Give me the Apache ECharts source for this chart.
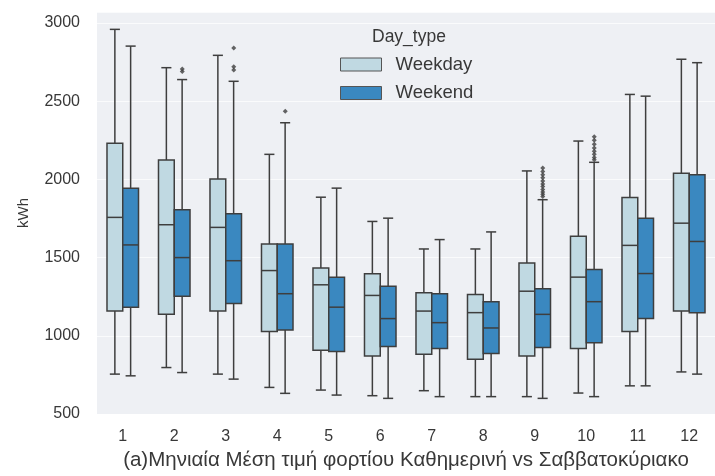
<!DOCTYPE html>
<html>
<head>
<meta charset="utf-8">
<script src="https://cdn.jsdelivr.net/npm/echarts@6/dist/echarts.min.js"></script>
<style>
  html, body { margin: 0; padding: 0; background: #ffffff; }
  #chart { width: 715px; height: 476px; }
</style>
</head>
<body>
<div id="chart"></div>
<script>
// Months on the x axis
const months = ['1', '2', '3', '4', '5', '6', '7', '8', '9', '10', '11', '12'];

// Weekday box statistics (kWh): lower whisker, Q1, median, Q3, upper whisker
const weekdayLow  = [755, 797, 755, 670, 653, 617, 649, 611, 611, 634, 680, 769];
const weekdayQ1   = [1158, 1137, 1158, 1027, 908, 871, 882, 850, 871, 918, 1027, 1158];
const weekdayMed  = [1757, 1710, 1693, 1417, 1326, 1258, 1158, 1148, 1285, 1375, 1578, 1720];
const weekdayQ3   = [2231, 2124, 2003, 1587, 1434, 1396, 1275, 1264, 1466, 1636, 1884, 2039];
const weekdayHigh = [2959, 2714, 2793, 2160, 1886, 1731, 1555, 1555, 2054, 2245, 2543, 2768];

// Weekend box statistics (kWh)
const weekendLow  = [744, 765, 723, 632, 621, 600, 611, 611, 600, 611, 680, 755];
const weekendQ1   = [1183, 1253, 1207, 1037, 899, 931, 918, 886, 925, 956, 1111, 1148];
const weekendMed  = [1581, 1500, 1480, 1269, 1183, 1110, 1084, 1050, 1137, 1218, 1398, 1603];
const weekendQ3   = [1944, 1806, 1780, 1587, 1375, 1317, 1269, 1218, 1300, 1424, 1752, 2029];
const weekendHigh = [2852, 2638, 2627, 2362, 1944, 1752, 1615, 1664, 1870, 2109, 2532, 2746];

// Weekend outliers: month index (0-based) and value
const weekendOutMonth = [1, 1, 2, 2, 2, 3,
  8, 8, 8, 8, 8, 8, 8, 8, 8, 8, 8,
  9, 9, 9, 9, 9, 9, 9, 9];
const weekendOutValue = [2690, 2705, 2840, 2700, 2720, 2435,
  1890, 1905, 1920, 1935, 1955, 1970, 1990, 2010, 2030, 2050, 2072,
  2125, 2140, 2160, 2180, 2200, 2225, 2250, 2272];

// Y axis ticks
const yMin = 500, yMax = 3070, yStep = 500;

const weekdayColor = '#c0d9e2';
const weekendColor = '#3a88c0';
const edgeColor = '#3e3e3e';
const BOX_FRACTION = 0.306;   // box width as a share of the category band

function buildRows(low, q1, med, q3, high) {
  return months.map((m, i) => [i, low[i], q1[i], med[i], q3[i], high[i]]);
}

function boxRenderer(side) {
  return function (params, api) {
    const idx = api.value(0);
    const band = api.size([1, 0])[0];
    const w = band * BOX_FRACTION;
    const cx = api.coord([idx, 0])[0] + side * w / 2;
    const yLow = api.coord([idx, api.value(1)])[1];
    const yQ1 = api.coord([idx, api.value(2)])[1];
    const yMed = api.coord([idx, api.value(3)])[1];
    const yQ3 = api.coord([idx, api.value(4)])[1];
    const yHigh = api.coord([idx, api.value(5)])[1];
    const capHalf = w * 0.32;
    const lineStyle = { stroke: edgeColor, lineWidth: 1.5 };
    const fill = api.visual('color');
    return {
      type: 'group',
      children: [
        { type: 'line', shape: { x1: cx, y1: yLow, x2: cx, y2: yQ1 }, style: lineStyle },
        { type: 'line', shape: { x1: cx, y1: yQ3, x2: cx, y2: yHigh }, style: lineStyle },
        { type: 'line', shape: { x1: cx - capHalf, y1: yLow, x2: cx + capHalf, y2: yLow }, style: lineStyle },
        { type: 'line', shape: { x1: cx - capHalf, y1: yHigh, x2: cx + capHalf, y2: yHigh }, style: lineStyle },
        { type: 'rect', shape: { x: cx - w / 2, y: yQ3, width: w, height: yQ1 - yQ3 },
          style: { fill: fill, stroke: edgeColor, lineWidth: 1.5 } },
        { type: 'line', shape: { x1: cx - w / 2, y1: yMed, x2: cx + w / 2, y2: yMed }, style: lineStyle }
      ]
    };
  };
}

const chart = echarts.init(document.getElementById('chart'), null, { renderer: 'canvas' });

const fontFamily = '"Liberation Sans", Arial, sans-serif';
const textColor = '#383838';

chart.setOption({
  animation: false,
  textStyle: { fontFamily: fontFamily },
  grid: {
    left: 97, top: 12, width: 626, height: 403,
    show: true, backgroundColor: '#eef0f4', borderWidth: 0
  },
  legend: {
    orient: 'vertical',
    left: 340, top: 55,
    itemWidth: 41, itemHeight: 13, itemGap: 9.5,
    icon: 'rect',
    padding: 0,
    itemStyle: { borderColor: '#555555', borderWidth: 1 },
    textStyle: { fontSize: 18.5, color: textColor, padding: [0, 0, 0, 9], fontFamily: fontFamily },
    data: ['Weekday', 'Weekend']
  },
  graphic: [{
    type: 'text', left: 372, top: 28,
    style: { text: 'Day_type', fontSize: 17.5, fill: textColor, fontFamily: fontFamily }
  }],
  xAxis: {
    type: 'category',
    data: months,
    boundaryGap: true,
    axisLine: { show: false },
    axisTick: { show: false },
    axisLabel: { fontSize: 16, color: textColor, margin: 15 },
    name: '(a)Μηνιαία Μέση τιμή φορτίου Καθημερινή vs Σαββατοκύριακο',
    nameLocation: 'middle',
    nameGap: 36,
    nameTextStyle: { fontSize: 20.5, color: textColor }
  },
  yAxis: {
    type: 'value',
    min: yMin, max: yMax, interval: yStep,
    axisLine: { show: false },
    axisTick: { show: false },
    splitLine: { show: true, lineStyle: { color: 'rgba(255,255,255,0.7)', width: 1 } },
    axisLabel: {
      fontSize: 16, color: textColor, margin: 17,
      formatter: v => (v % yStep === 0 ? String(v) : '')
    },
    name: 'kWh',
    nameLocation: 'middle',
    nameRotate: 90,
    nameGap: 66,
    nameTextStyle: { fontSize: 15, color: textColor }
  },
  series: [
    {
      name: 'Weekday', type: 'custom',
      itemStyle: { color: weekdayColor, borderColor: edgeColor },
      renderItem: boxRenderer(-1),
      encode: { x: 0, y: [1, 2, 3, 4, 5] },
      data: buildRows(weekdayLow, weekdayQ1, weekdayMed, weekdayQ3, weekdayHigh),
      z: 3
    },
    {
      name: 'Weekend', type: 'custom',
      itemStyle: { color: weekendColor, borderColor: edgeColor },
      renderItem: boxRenderer(1),
      encode: { x: 0, y: [1, 2, 3, 4, 5] },
      data: buildRows(weekendLow, weekendQ1, weekendMed, weekendQ3, weekendHigh),
      z: 3
    },
    {
      name: 'Weekend outliers', type: 'scatter',
      symbol: 'diamond', symbolSize: 5,
      symbolOffset: [8, 0],
      itemStyle: { color: '#3e3e3e' },
      data: weekendOutMonth.map((m, i) => [m, weekendOutValue[i]]),
      z: 4
    }
  ]
});
</script>
</body>
</html>
